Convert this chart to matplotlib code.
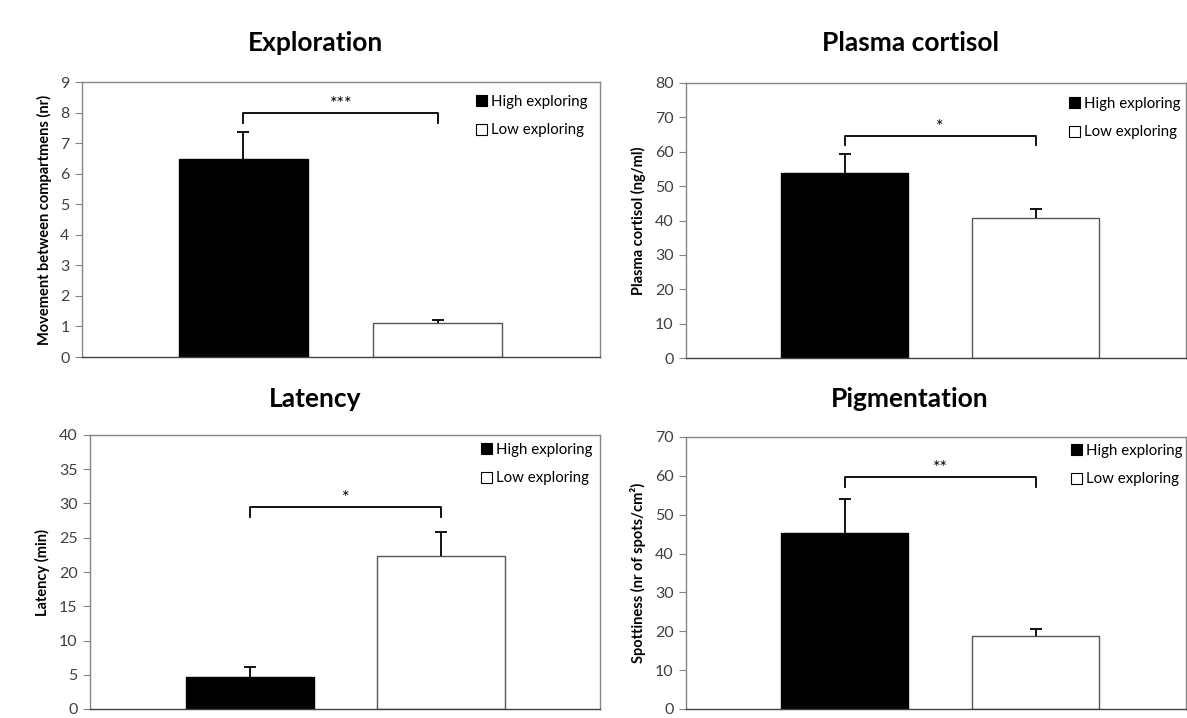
import matplotlib
matplotlib.use('Agg')

import matplotlib.pyplot as plt
from matplotlib.patches import Patch

plt.rcParams['font.family'] = ['Lato', 'DejaVu Sans']

# ===== 数据 =====
groups = ['High exploring', 'Low exploring']
bar_colors = ['black', 'white']

titles = ['Exploration', 'Plasma cortisol', 'Latency', 'Pigmentation']
ylabels = ['Movement between compartmens (nr)', 'Plasma cortisol (ng/ml)',
           'Latency (min)', 'Spottiness (nr of spots/cm²)']

exploration_mean = [6.47, 1.10]
exploration_err = [0.88, 0.11]
cortisol_mean = [53.9, 40.7]
cortisol_err = [5.5, 2.6]
latency_mean = [4.65, 22.4]
latency_err = [1.45, 3.5]
pigment_mean = [45.3, 18.8]
pigment_err = [8.7, 1.9]

y_max = [9, 80, 40, 70]
y_step = [1, 10, 5, 10]

sig_labels = ['***', '*', '*', '**']
bracket_top = [7.98, 64.6, 29.5, 59.8]
bracket_end = [7.65, 62.0, 28.1, 57.2]

means = [exploration_mean, cortisol_mean, latency_mean, pigment_mean]
errs = [exploration_err, cortisol_err, latency_err, pigment_err]

# ===== 布局 (figure 像素) =====
W, H = 1187, 718
# left, right, top, bottom (像素)
boxes = [(82, 600, 82, 357), (686, 1186, 83, 358),
         (90, 600, 435, 709), (686, 1186, 437, 709)]
# 柱子中心/宽度 (像素)
bar_px = [(243.5, 438, 129), (844.5, 1035.5, 127),
          (250, 440.5, 128), (844.5, 1035.5, 127)]
title_pos = [(315, 43), (910, 43), (315, 399), (910, 399)]
legend_px = [(476, 95), (1069, 97), (481, 443), (1071, 444)]

fig = plt.figure(figsize=(W / 100, H / 100), dpi=100)

spine_gray = '#858585'
text_gray = '#404040'

for i in range(4):
    l, r, t, b = boxes[i]
    ax = fig.add_axes([l / W, 1 - b / H, (r - l) / W, (b - t) / H])

    # 像素 -> 数据坐标: 两个柱子在 x=0 和 x=1
    c0, c1, bw = bar_px[i]
    unit = c1 - c0
    ax.set_xlim((l - c0) / unit, (r - c0) / unit)
    ax.set_ylim(0, y_max[i])

    ax.bar([0, 1], means[i], width=bw / unit, color=bar_colors,
           edgecolor=['black', '#555555'], linewidth=1.0, zorder=2)
    # 只画向上的误差线, 隐藏下端的帽
    _, caps, _ = ax.errorbar([0, 1], means[i], yerr=[[0, 0], errs[i]], fmt='none',
                             ecolor='black', elinewidth=1.3, capsize=4, capthick=1.3,
                             zorder=3)
    caps[0].set_visible(False)

    # 显著性括号
    ax.plot([0, 0, 1, 1], [bracket_end[i], bracket_top[i], bracket_top[i], bracket_end[i]],
            color='black', linewidth=1.3, zorder=3)
    ax.text(0.5, bracket_top[i] + y_max[i] * 0.004, sig_labels[i], ha='center', va='bottom',
            fontsize=13, color='black')

    ax.set_yticks(range(0, y_max[i] + 1, y_step[i]))
    ax.set_xticks([])
    ax.tick_params(axis='y', direction='out', length=5, color=spine_gray,
                   labelcolor=text_gray, labelsize=11.5, pad=4)
    for s in ax.spines.values():
        s.set_color(spine_gray)
        s.set_linewidth(1.0)
    ax.spines['bottom'].set_color('#404040')

    ax.set_ylabel(ylabels[i], fontsize=10.5, fontweight='bold', color='black', labelpad=6)

    # 图例
    lx, ly = legend_px[i]
    handles = [Patch(facecolor=c, edgecolor='black', linewidth=0.8) for c in bar_colors]
    ax.legend(handles, groups, loc='upper left', frameon=False,
              bbox_to_anchor=((lx - l) / (r - l), 1 - (ly - t) / (b - t)),
              handlelength=0.75, handleheight=0.75, handletextpad=0.25,
              labelspacing=0.95, borderpad=0, borderaxespad=0,
              fontsize=10.8, labelcolor='black')

    tx, ty = title_pos[i]
    fig.text(tx / W, 1 - ty / H, titles[i], ha='center', va='center',
             fontsize=19, fontweight='bold')

fig.savefig('out.png', dpi=100)
